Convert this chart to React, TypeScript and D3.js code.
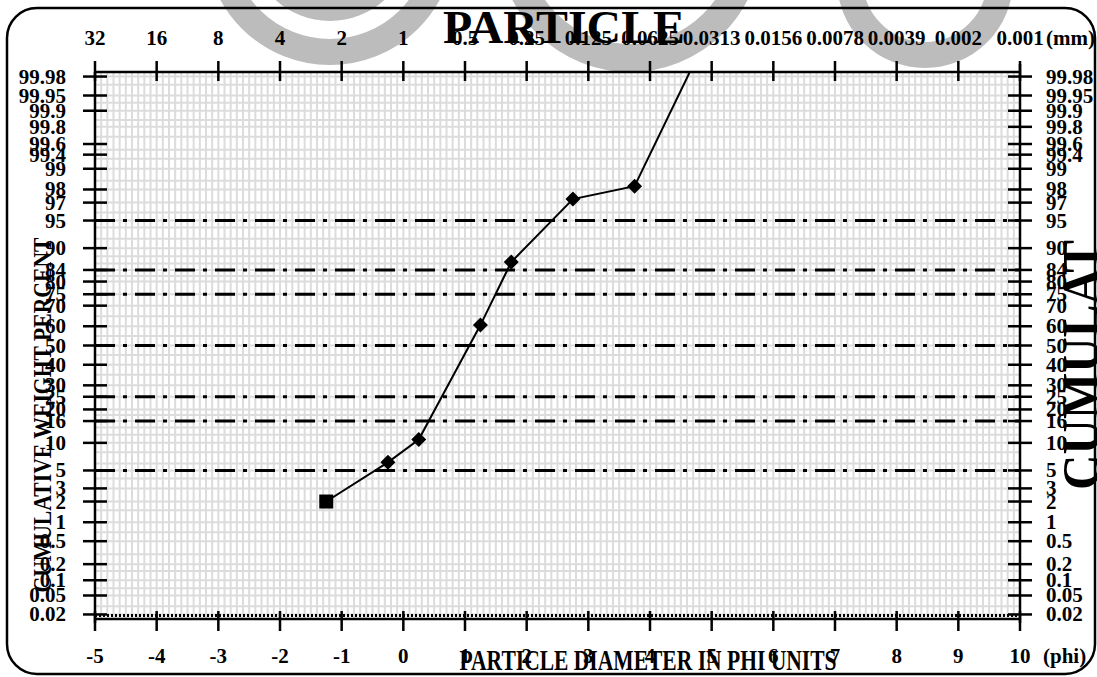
import React from "react";
import * as d3 from "d3";

// ---------- data ----------
const PHI_TICKS = [-5, -4, -3, -2, -1, 0, 1, 2, 3, 4, 5, 6, 7, 8, 9, 10];
const MM_LABELS = ["32", "16", "8", "4", "2", "1", "0.5", "0.25", "0.125", "0.0625", "0.0313", "0.0156", "0.0078", "0.0039", "0.002", "0.001"];
const PCT_TICKS = [0.02, 0.05, 0.1, 0.2, 0.5, 1, 2, 3, 5, 10, 16, 20, 25, 30, 40, 50, 60, 70, 75, 80, 84, 90, 95, 97, 98, 99, 99.4, 99.6, 99.8, 99.9, 99.95, 99.98];
const LEFT_SKIP = [99.8];
const REF_LINES = [5, 16, 25, 50, 75, 84, 95];
const GRID_PCT = [0.02, 0.03, 0.05, 0.07, 0.1, 0.15, 0.2, 0.3, 0.5, 0.7, 1, 1.5, 2, 3, 4, 5, 6, 8, 10, 12, 14, 16, 18, 20, 25, 30, 35, 40, 45, 50, 55, 60, 65, 70, 75, 80, 82, 84, 86, 88, 90, 92, 94, 95, 96, 97, 98, 98.5, 99, 99.3, 99.5, 99.7, 99.8, 99.85, 99.9, 99.93, 99.95, 99.97, 99.98];
const PHI_DATA = [-1.25, -0.25, 0.25, 1.25, 1.75, 2.75, 3.75, 4.75];
const PCT_DATA = [2, 6.2, 10.8, 60.6, 86.4, 97.3, 98.2, 99.992];
const MARKERS = ["square", "diamond", "diamond", "diamond", "diamond", "diamond", "diamond", "diamond"];

// inverse standard normal CDF (Acklam)
function normInv(p: number): number {
  const a = [-3.969683028665376e1, 2.209460984245205e2, -2.759285104469687e2, 1.38357751867269e2, -3.066479806614716e1, 2.506628277459239];
  const b = [-5.447609879822406e1, 1.615858368580409e2, -1.556989798598866e2, 6.680131188771972e1, -1.328068155288572e1];
  const c = [-7.784894002430293e-3, -3.223964580411365e-1, -2.400758277161838, -2.549732539343734, 4.374664141464968, 2.938163982698783];
  const d = [7.784695709041462e-3, 3.224671290700398e-1, 2.445134137142996, 3.754408661907416];
  const pl = 0.02425;
  let q, r;
  if (p < pl) {
    q = Math.sqrt(-2 * Math.log(p));
    return (((((c[0] * q + c[1]) * q + c[2]) * q + c[3]) * q + c[4]) * q + c[5]) / ((((d[0] * q + d[1]) * q + d[2]) * q + d[3]) * q + 1);
  }
  if (p <= 1 - pl) {
    q = p - 0.5;
    r = q * q;
    return ((((((a[0] * r + a[1]) * r + a[2]) * r + a[3]) * r + a[4]) * r + a[5]) * q) / (((((b[0] * r + b[1]) * r + b[2]) * r + b[3]) * r + b[4]) * r + 1);
  }
  q = Math.sqrt(-2 * Math.log(1 - p));
  return -(((((c[0] * q + c[1]) * q + c[2]) * q + c[3]) * q + c[4]) * q + c[5]) / ((((d[0] * q + d[1]) * q + d[2]) * q + d[3]) * q + 1);
}

const FONT = "'Liberation Serif', 'Times New Roman', serif";

export default function App() {
  const x = d3.scaleLinear().domain([-5, 10]).range([95, 1020]);
  const y = d3.scaleLinear().domain([-3.6, 3.6]).range([619, 72]);
  const yp = (p: number) => y(normInv(p / 100));
  const [x0, x1] = x.range();
  const [yb, yt] = y.range();
  const pts: [number, number][] = PHI_DATA.map((v, i) => [v, PCT_DATA[i]]);
  const line = d3.line<[number, number]>().x((d) => x(d[0])).y((d) => yp(d[1]));
  const vgrid = d3.range(-5, 10.0001, 0.1);
  const wm = "#bcbcbc";

  return (
    <svg width={1097} height={677} style={{ position: "absolute", left: 0, top: 0, background: "#fff" }} fontFamily={FONT} fontWeight="bold">
      <defs>
        <clipPath id="plot">
          <rect x={x0} y={yt} width={x1 - x0} height={yb - yt} />
        </clipPath>
      </defs>
      {/* watermark */}
      <g fill="none" stroke={wm}>
        <circle cx={330} cy={-60} r={112} strokeWidth={26} />
        <circle cx={330} cy={-60} r={70} strokeWidth={22} />
        <circle cx={630} cy={-60} r={118} strokeWidth={28} />
        <circle cx={925} cy={-20} r={75} strokeWidth={26} />
      </g>
      {/* frame */}
      <rect x={7} y={8} width={1088} height={666} rx={30} ry={30} fill="none" stroke="#000" strokeWidth={2.5} />
      {/* plot bg */}
      <rect x={x0} y={yt} width={x1 - x0} height={yb - yt} fill="#fff" />
      {/* grid */}
      <g stroke="#dcdcdc" strokeWidth={2}>
        {vgrid.map((v, i) => (
          <line key={"v" + i} x1={x(v)} x2={x(v)} y1={yt} y2={yb} />
        ))}
        {GRID_PCT.map((p, i) => (
          <line key={"h" + i} x1={x0} x2={x1} y1={yp(p)} y2={yp(p)} />
        ))}
      </g>
      {/* reference dash-dot lines */}
      <g stroke="#000" strokeWidth={3} strokeDasharray="20 8 4 8">
        {REF_LINES.map((p) => (
          <line key={p} x1={x0} x2={x1} y1={yp(p)} y2={yp(p)} />
        ))}
      </g>
      {/* dotted bottom line */}
      <line x1={x0} x2={x1} y1={yp(0.02) + 1} y2={yp(0.02) + 1} stroke="#000" strokeWidth={3} strokeDasharray="2 2" />
      {/* axes */}
      <g stroke="#000" strokeWidth={2.5}>
        <line x1={x0} x2={x1} y1={yt} y2={yt} />
        <line x1={x0} x2={x1} y1={yb} y2={yb} />
        <line x1={x0} x2={x0} y1={yt} y2={yb + 4} />
        <line x1={x1} x2={x1} y1={yt - 8} y2={yb + 4} />
        {PHI_TICKS.map((v) => (
          <g key={"t" + v}>
            <line x1={x(v)} x2={x(v)} y1={yb - 8} y2={yb + 12} />
            <line x1={x(v)} x2={x(v)} y1={yt - 11} y2={yt + 9} />
          </g>
        ))}
        {PCT_TICKS.map((p) => (
          <g key={"p" + p}>
            {LEFT_SKIP.indexOf(p) < 0 && <line x1={x0 - 12} x2={x0 + 12} y1={yp(p)} y2={yp(p)} />}
            <line x1={x1 - 12} x2={x1 + 12} y1={yp(p)} y2={yp(p)} />
          </g>
        ))}
      </g>
      {/* data */}
      <g clipPath="url(#plot)">
        <path d={line(pts) || ""} fill="none" stroke="#000" strokeWidth={2} />
        {pts.map((d, i) =>
          MARKERS[i] === "square" ? (
            <rect key={i} x={x(d[0]) - 7} y={yp(d[1]) - 7} width={14} height={14} fill="#000" />
          ) : (
            <rect key={i} x={-5.3} y={-5.3} width={10.6} height={10.6} fill="#000" transform={`translate(${x(d[0])},${yp(d[1])}) rotate(45)`} />
          )
        )}
      </g>
      {/* tick labels */}
      <g fontSize={21} fill="#000">
        {PHI_TICKS.map((v) => (
          <text key={"bl" + v} x={x(v)} y={663} textAnchor="middle">{v}</text>
        ))}
        <text x={1043} y={663}>(phi)</text>
        {PHI_TICKS.map((v, i) => (
          <text key={"tl" + v} x={x(v)} y={45} textAnchor="middle">{MM_LABELS[i]}</text>
        ))}
        <text x={1046} y={45}>(mm)</text>
        {PCT_TICKS.map((p) => (
          <text key={"ll" + p} x={66} y={yp(p) + 7} textAnchor="end">{p}</text>
        ))}
        {PCT_TICKS.map((p) => (
          <text key={"rl" + p} x={1046} y={yp(p) + 7}>{p}</text>
        ))}
      </g>
      {/* titles */}
      <text x={564} y={43} fontSize={46} textAnchor="middle" textLength={242} lengthAdjust="spacingAndGlyphs">PARTICLE</text>
      <text x={648} y={670} fontSize={30} textAnchor="middle" textLength={377} lengthAdjust="spacingAndGlyphs">PARTICLE DIAMETER IN PHI UNITS</text>
      <text transform="translate(51,415) rotate(-90)" fontSize={26} textAnchor="middle" textLength={355} lengthAdjust="spacingAndGlyphs">CUMULATIVE WEIGHT PERCENT</text>
      <text transform="translate(1099,365) rotate(-90)" fontSize={52} textAnchor="middle" textLength={250} lengthAdjust="spacingAndGlyphs">CUMULAT</text>
    </svg>
  );
}
